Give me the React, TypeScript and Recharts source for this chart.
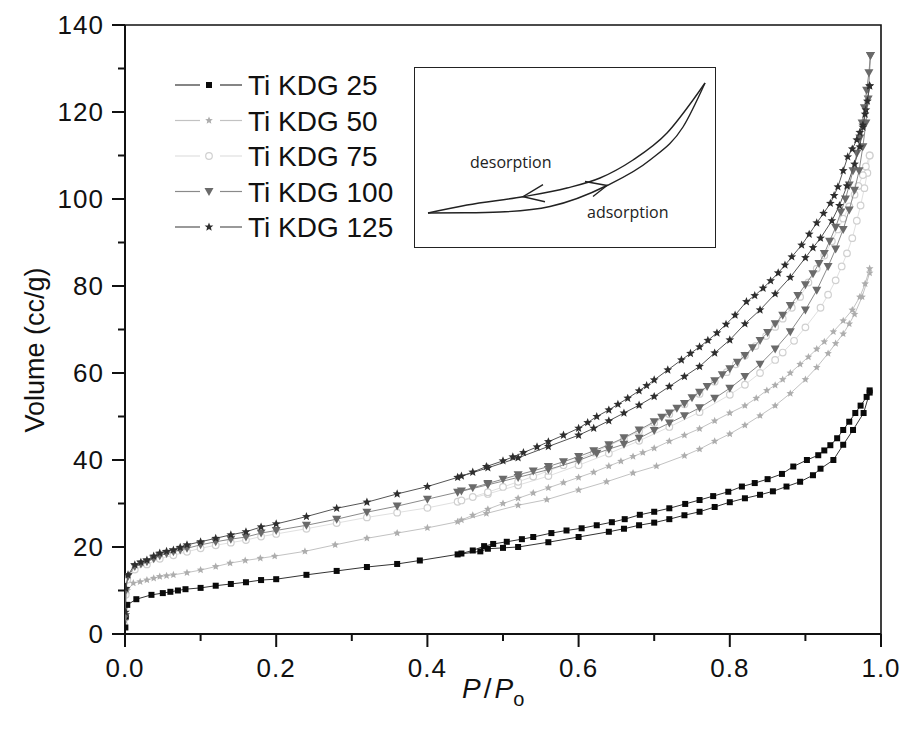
import React from "react";
import {
  Line,
  LineChart,
  ReferenceArea,
  Scatter,
  ScatterChart,
  XAxis,
  YAxis,
} from "recharts";

// P/Po, volume (cc/g) pairs
const kdg25Ads: [number, number][] = [
  [0.0005, 1.5], [0.001, 4.0], [0.003, 6.7], [0.015, 8.0], [0.035, 9.0], [0.05, 9.4],
  [0.06, 9.7], [0.07, 10.0], [0.08, 10.3], [0.1, 10.6], [0.12, 11.1], [0.14, 11.5],
  [0.16, 11.9], [0.18, 12.4], [0.2, 12.6], [0.24, 13.6], [0.28, 14.5], [0.32, 15.4],
  [0.36, 16.1], [0.39, 16.9], [0.44, 18.3], [0.47, 19.0], [0.48, 19.6], [0.5, 19.8],
  [0.52, 20.0], [0.56, 21.1], [0.6, 22.3], [0.64, 23.5], [0.66, 24.2], [0.68, 25.0],
  [0.7, 25.6], [0.72, 26.4], [0.74, 27.3], [0.76, 28.1], [0.78, 29.2], [0.8, 30.3],
  [0.82, 31.2], [0.84, 32.0], [0.857, 32.8], [0.875, 33.9], [0.893, 35.0], [0.91, 36.5],
  [0.92, 38.0], [0.937, 40.0], [0.95, 43.5], [0.963, 46.9], [0.977, 50.8], [0.985, 55.5],
];
const kdg25Des: [number, number][] = [
  [0.985, 56.0], [0.981, 54.5], [0.973, 52.5], [0.966, 50.8], [0.958, 48.8], [0.95, 46.9],
  [0.942, 45.0], [0.933, 43.4], [0.925, 42.2], [0.917, 41.1], [0.902, 40.0], [0.884, 38.5],
  [0.869, 36.8], [0.85, 35.6], [0.833, 34.7], [0.816, 33.9], [0.798, 32.7], [0.778, 31.7],
  [0.76, 30.8], [0.741, 29.9], [0.72, 28.9], [0.7, 28.1], [0.681, 27.4], [0.661, 26.4],
  [0.644, 25.7], [0.624, 25.0], [0.604, 24.3], [0.584, 23.8], [0.564, 23.2], [0.54, 22.3],
  [0.525, 21.8], [0.505, 21.2], [0.487, 20.7], [0.475, 20.2], [0.46, 19.2], [0.445, 18.5],
];

const kdg50Ads: [number, number][] = [
  [0.0005, 3.0], [0.001, 7.0], [0.003, 10.0], [0.011, 11.7], [0.02, 12.0], [0.029, 12.4],
  [0.038, 12.8], [0.046, 13.2], [0.055, 13.4], [0.064, 13.6], [0.082, 14.1], [0.1, 14.7],
  [0.12, 15.5], [0.139, 16.3], [0.159, 16.9], [0.179, 17.4], [0.198, 17.9], [0.238, 19.0],
  [0.278, 20.5], [0.32, 22.0], [0.36, 23.2], [0.4, 24.4], [0.44, 25.8], [0.478, 27.7],
  [0.52, 29.6], [0.558, 30.9], [0.6, 33.1], [0.637, 35.0], [0.672, 37.0], [0.703, 38.6],
  [0.74, 41.0], [0.76, 42.5], [0.78, 44.3], [0.8, 46.0], [0.82, 48.0], [0.84, 50.2],
  [0.86, 52.5], [0.88, 55.3], [0.9, 58.5], [0.915, 61.3], [0.93, 64.5], [0.94, 66.8],
  [0.95, 69.0], [0.958, 71.3], [0.965, 73.5], [0.975, 77.5], [0.985, 83.0],
];
const kdg50Des: [number, number][] = [
  [0.985, 84.0], [0.979, 80.5], [0.972, 77.5], [0.962, 74.5], [0.95, 72.0], [0.937, 69.5],
  [0.925, 67.2], [0.915, 65.5], [0.904, 63.7], [0.893, 62.0], [0.88, 60.0], [0.87, 58.5],
  [0.86, 57.2], [0.849, 56.0], [0.835, 54.2], [0.82, 52.5], [0.8, 50.8], [0.78, 49.0],
  [0.76, 47.2], [0.74, 45.7], [0.72, 44.3], [0.7, 42.7], [0.685, 41.7], [0.672, 40.8],
  [0.656, 39.7], [0.64, 38.6], [0.62, 37.2], [0.6, 36.0], [0.58, 34.8], [0.56, 33.6],
  [0.54, 32.4], [0.52, 31.2], [0.5, 30.0], [0.48, 28.7], [0.46, 27.3], [0.445, 26.2],
];

const kdg75Ads: [number, number][] = [
  [0.0005, 4.0], [0.001, 9.0], [0.003, 12.5], [0.013, 14.8], [0.029, 16.0], [0.046, 17.3],
  [0.064, 18.1], [0.082, 18.9], [0.1, 19.7], [0.12, 20.4], [0.14, 21.0], [0.16, 21.6],
  [0.18, 22.4], [0.2, 23.0], [0.24, 24.2], [0.28, 25.5], [0.32, 26.8], [0.36, 27.9],
  [0.4, 29.0], [0.44, 30.4], [0.48, 32.2], [0.52, 34.2], [0.56, 36.3], [0.6, 38.8],
  [0.64, 41.5], [0.68, 44.4], [0.72, 47.6], [0.76, 51.0], [0.8, 55.0], [0.82, 57.3],
  [0.84, 60.0], [0.86, 63.0], [0.87, 64.7], [0.885, 67.4], [0.9, 70.5], [0.92, 75.0],
  [0.93, 78.0], [0.94, 81.3], [0.948, 84.5], [0.955, 87.5], [0.962, 91.0], [0.968, 95.0],
  [0.973, 98.5], [0.978, 102.5], [0.982, 106.0], [0.985, 110.0],
];
const kdg75Des: [number, number][] = [
  [0.985, 110.0], [0.98, 107.5], [0.976, 105.5], [0.97, 103.0], [0.965, 101.0], [0.958, 98.3],
  [0.95, 95.5], [0.943, 93.0], [0.935, 90.3], [0.925, 87.0], [0.915, 84.0], [0.904, 80.8],
  [0.893, 77.5], [0.882, 75.0], [0.87, 72.5], [0.86, 70.6], [0.848, 68.5], [0.834, 66.2],
  [0.82, 64.0], [0.808, 62.0], [0.796, 60.2], [0.78, 58.0], [0.76, 55.2], [0.74, 52.8],
  [0.72, 50.5], [0.7, 48.5], [0.68, 46.6], [0.66, 44.9], [0.64, 43.3], [0.62, 41.7],
  [0.6, 40.2], [0.58, 38.8], [0.56, 37.5], [0.54, 36.2], [0.52, 35.0], [0.5, 33.8],
  [0.48, 32.6], [0.46, 31.5], [0.445, 30.7],
];

const kdg100Ads: [number, number][] = [
  [0.0005, 4.0], [0.001, 10.0], [0.004, 13.2], [0.013, 15.5], [0.021, 16.1], [0.029, 16.6],
  [0.038, 17.3], [0.046, 18.0], [0.055, 18.5], [0.064, 18.9], [0.073, 19.3], [0.082, 19.7],
  [0.1, 20.5], [0.12, 21.2], [0.14, 21.8], [0.16, 22.3], [0.18, 23.2], [0.2, 23.8],
  [0.24, 25.0], [0.28, 26.4], [0.32, 28.0], [0.36, 29.4], [0.4, 31.0], [0.44, 32.6],
  [0.48, 34.3], [0.52, 36.0], [0.56, 37.8], [0.6, 39.9], [0.624, 41.5], [0.64, 42.5],
  [0.66, 43.6], [0.68, 45.0], [0.7, 46.8], [0.72, 48.5], [0.74, 50.2], [0.76, 52.0],
  [0.78, 54.2], [0.8, 56.5], [0.82, 59.2], [0.84, 62.0], [0.86, 65.5], [0.88, 69.5],
  [0.9, 74.5], [0.915, 79.0], [0.93, 84.5], [0.94, 88.5], [0.95, 93.0], [0.958, 97.5],
  [0.965, 102.0], [0.971, 106.5], [0.976, 112.0], [0.98, 117.5], [0.983, 123.0], [0.986, 133.0],
];
const kdg100Des: [number, number][] = [
  [0.986, 133.0], [0.984, 129.0], [0.981, 125.0], [0.978, 121.0], [0.975, 117.5], [0.972, 114.0],
  [0.968, 110.5], [0.963, 106.5], [0.958, 103.2], [0.953, 100.0], [0.947, 97.0], [0.94, 93.5],
  [0.932, 90.3], [0.925, 87.5], [0.918, 85.2], [0.91, 82.8], [0.9, 80.3], [0.89, 77.8],
  [0.88, 75.5], [0.87, 73.3], [0.86, 71.3], [0.85, 69.3], [0.84, 67.5], [0.83, 65.8],
  [0.82, 64.0], [0.81, 62.5], [0.8, 61.0], [0.79, 59.6], [0.78, 58.2], [0.77, 56.9],
  [0.76, 55.6], [0.75, 54.3], [0.74, 53.0], [0.73, 51.9], [0.72, 50.8], [0.71, 49.8],
  [0.7, 48.8], [0.68, 46.9], [0.66, 45.1], [0.64, 43.5], [0.62, 42.1], [0.6, 40.8],
  [0.58, 39.6], [0.56, 38.5], [0.54, 37.5], [0.52, 36.6], [0.5, 35.6], [0.48, 34.6],
  [0.46, 33.6], [0.445, 32.9],
];

const kdg125Ads: [number, number][] = [
  [0.0005, 5.0], [0.001, 10.5], [0.004, 13.6], [0.013, 15.9], [0.021, 16.5], [0.029, 17.0],
  [0.038, 17.9], [0.046, 18.6], [0.055, 19.0], [0.064, 19.3], [0.073, 19.9], [0.082, 20.5],
  [0.1, 21.2], [0.12, 22.0], [0.14, 22.8], [0.16, 23.5], [0.18, 24.6], [0.2, 25.3],
  [0.24, 27.0], [0.28, 28.9], [0.32, 30.3], [0.36, 32.2], [0.4, 33.9], [0.44, 36.0],
  [0.48, 38.2], [0.52, 40.5], [0.56, 43.1], [0.6, 45.7], [0.62, 47.3], [0.64, 49.0],
  [0.66, 50.8], [0.68, 52.6], [0.7, 54.6], [0.72, 56.9], [0.74, 59.2], [0.76, 61.5],
  [0.78, 64.6], [0.8, 67.6], [0.82, 71.3], [0.84, 74.5], [0.86, 78.2], [0.88, 82.0],
  [0.9, 86.5], [0.91, 88.8], [0.92, 91.0], [0.935, 95.0], [0.945, 98.5], [0.955, 103.0],
  [0.965, 108.0], [0.972, 112.0], [0.976, 116.5], [0.98, 120.5], [0.985, 126.0],
];
const kdg125Des: [number, number][] = [
  [0.985, 126.0], [0.982, 122.5], [0.979, 119.5], [0.976, 117.0], [0.972, 115.3], [0.968, 113.6],
  [0.962, 111.5], [0.956, 109.7], [0.95, 106.5], [0.943, 102.8], [0.938, 100.8], [0.933, 99.0],
  [0.924, 96.7], [0.915, 94.5], [0.905, 91.9], [0.895, 89.4], [0.882, 86.7], [0.873, 84.8],
  [0.864, 83.0], [0.854, 81.2], [0.844, 79.5], [0.833, 77.8], [0.822, 76.4], [0.807, 73.3],
  [0.795, 71.2], [0.783, 69.2], [0.771, 67.5], [0.76, 66.0], [0.748, 64.5], [0.736, 63.0],
  [0.718, 60.7], [0.7, 58.4], [0.69, 57.1], [0.68, 55.9], [0.665, 54.2], [0.652, 52.8],
  [0.64, 51.5], [0.624, 50.0], [0.612, 48.6], [0.6, 47.3], [0.58, 45.7], [0.56, 44.2],
  [0.545, 43.0], [0.527, 41.7], [0.513, 40.7], [0.5, 39.8], [0.478, 38.5], [0.46, 37.2],
  [0.445, 36.3],
];

const seriesNames = ["Ti KDG 25", "Ti KDG 50", "Ti KDG 75", "Ti KDG 100", "Ti KDG 125"];
const xTicks = [0, 0.1, 0.2, 0.3, 0.4, 0.5, 0.6, 0.7, 0.8, 0.9, 1.0];
const yTicks = [0, 10, 20, 30, 40, 50, 60, 70, 80, 90, 100, 110, 120, 130, 140];

// inset sketch of a hysteresis loop, in its own box units (x right, y up)
const sketchAdsorption: [number, number][] = [
  [13, 34], [50, 34.2], [85, 35], [135, 40.5], [192, 61.5], [235, 87], [268, 120], [290, 164],
];
const sketchDesorption: [number, number][] = [
  [13, 34], [52, 42], [108, 50.3], [152, 59], [185, 69], [218, 87], [252, 114], [278, 147], [290, 164],
];

type Kind = "square" | "star" | "circle" | "down" | "smallstar";

const styles: { kind: Kind; color: string; line: string }[] = [
  { kind: "square", color: "#0a0a0a", line: "#333" },
  { kind: "smallstar", color: "#adadad", line: "#c2c2c2" },
  { kind: "circle", color: "#d0d0d0", line: "#e0e0e0" },
  { kind: "down", color: "#6a6a6a", line: "#8a8a8a" },
  { kind: "star", color: "#2e2e2e", line: "#555" },
];

const branches = [
  [kdg25Ads, kdg25Des],
  [kdg50Ads, kdg50Des],
  [kdg75Ads, kdg75Des],
  [kdg100Ads, kdg100Des],
  [kdg125Ads, kdg125Des],
];

const drawOrder = [2, 1, 0, 3, 4];
const font = "'Liberation Sans', Arial, sans-serif";

function starPath(cx: number, cy: number, ro: number, ri: number) {
  let d = "";
  for (let i = 0; i < 10; i++) {
    const r = i % 2 === 0 ? ro : ri;
    const a = -Math.PI / 2 + (i * Math.PI) / 5;
    d += `${i === 0 ? "M" : "L"}${cx + r * Math.cos(a)},${cy + r * Math.sin(a)}`;
  }
  return d + "Z";
}

function Marker({ kind, cx, cy, color }: { kind: Kind; cx?: number; cy?: number; color: string }) {
  if (cx == null || cy == null) return <g />;
  if (kind === "square") return <rect x={cx - 3} y={cy - 3} width={6} height={6} fill={color} />;
  if (kind === "circle")
    return <circle cx={cx} cy={cy} r={3.3} fill="#fff" stroke={color} strokeWidth={1.2} />;
  if (kind === "down")
    return (
      <polygon
        points={`${cx - 4.5},${cy - 3.5} ${cx + 4.5},${cy - 3.5} ${cx},${cy + 4.5}`}
        fill={color}
      />
    );
  if (kind === "smallstar") return <path d={starPath(cx, cy, 4, 1.8)} fill={color} />;
  return <path d={starPath(cx, cy, 4.6, 2)} fill={color} />;
}

function XTick(props: any) {
  const { x, y, payload } = props;
  const v = payload.value as number;
  const major = Math.round(v * 10) % 2 === 0;
  return (
    <g>
      <line x1={x} x2={x} y1={y} y2={y + (major ? 13 : 7)} stroke="#111" strokeWidth={2} />
      {major && (
        <text x={x} y={y + 43} textAnchor="middle" fontSize={26} fontFamily={font} fill="#111" letterSpacing={1}>
          {v.toFixed(1)}
        </text>
      )}
    </g>
  );
}

function YTick(props: any) {
  const { x, y, payload } = props;
  const v = payload.value as number;
  const major = v % 20 === 0;
  return (
    <g>
      <line x1={x} x2={x - (major ? 13 : 7)} y1={y} y2={y} stroke="#111" strokeWidth={2} />
      {major && (
        <text x={x - 21} y={y + 9} textAnchor="end" fontSize={26} fontFamily={font} fill="#111" letterSpacing={1}>
          {v}
        </text>
      )}
    </g>
  );
}

function Arrow(dir: "left" | "right", at: number) {
  return (p: any) => {
    if (p.index !== at) return <g key={p.index} />;
    const { cx, cy } = p;
    const d =
      dir === "left"
        ? `M${cx + 20},${cy - 12} L${cx},${cy} L${cx + 22},${cy + 5}`
        : `M${cx - 22},${cy - 4} L${cx},${cy} L${cx - 14},${cy + 11}`;
    return <path key={p.index} d={d} fill="none" stroke="#222" strokeWidth={1.4} />;
  };
}

const toPts = (arr: [number, number][]) => arr.map(([x, y]) => ({ x, y }));

export default function App() {
  return (
    <div style={{ position: "absolute", left: 0, top: 0, width: 902, height: 734, background: "#fff" }}>
      <ScatterChart width={902} height={734} margin={{ top: 25, right: 21, bottom: 40, left: 25 }}>
        <XAxis
          type="number"
          dataKey="x"
          domain={[0, 1]}
          ticks={xTicks}
          interval={0}
          height={60}
          tickSize={0}
          tickMargin={0}
          tickLine={false}
          tick={<XTick />}
          axisLine={{ stroke: "#111", strokeWidth: 2 }}
          allowDataOverflow
        />
        <YAxis
          type="number"
          dataKey="y"
          domain={[0, 140]}
          ticks={yTicks}
          interval={0}
          width={100}
          tickSize={0}
          tickMargin={0}
          tickLine={false}
          tick={<YTick />}
          axisLine={{ stroke: "#111", strokeWidth: 2 }}
          allowDataOverflow
        />
        <ReferenceArea x1={0} x2={1} y1={0} y2={140} fill="none" stroke="#111" strokeWidth={1.6} />
        {drawOrder.flatMap((i) =>
          branches[i].map((branch, j) => (
            <Scatter
              key={`${i}-${j}`}
              name={seriesNames[i]}
              data={toPts(branch)}
              line={{ stroke: styles[i].line, strokeWidth: 1 }}
              lineType="joint"
              isAnimationActive={false}
              shape={(p: any) => <Marker kind={styles[i].kind} cx={p.cx} cy={p.cy} color={styles[i].color} />}
            />
          ))
        )}
      </ScatterChart>

      <div
        style={{
          position: "absolute",
          left: 414,
          top: 67,
          width: 300,
          height: 179,
          border: "1.5px solid #222",
          background: "#fff",
        }}
      >
        <LineChart width={300} height={179} margin={{ top: 0, right: 0, bottom: 0, left: 0 }}>
          <XAxis type="number" dataKey="x" domain={[0, 300]} hide />
          <YAxis type="number" dataKey="y" domain={[0, 179]} hide width={0} />
          <Line
            data={toPts(sketchDesorption)}
            dataKey="y"
            type="monotone"
            stroke="#222"
            strokeWidth={1.4}
            dot={Arrow("left", 2)}
            activeDot={false}
            isAnimationActive={false}
          />
          <Line
            data={toPts(sketchAdsorption)}
            dataKey="y"
            type="monotone"
            stroke="#222"
            strokeWidth={1.4}
            dot={Arrow("right", 4)}
            activeDot={false}
            isAnimationActive={false}
          />
        </LineChart>
      </div>

      <svg
        width={902}
        height={734}
        style={{ position: "absolute", left: 0, top: 0, pointerEvents: "none" }}
      >
        <text x={470} y={168} fontSize={16} fontFamily="'Open Sans', sans-serif" fill="#222">
          desorption
        </text>
        <text x={587} y={218} fontSize={16} fontFamily="'Open Sans', sans-serif" fill="#222">
          adsorption
        </text>

        <text
          x={35}
          y={350}
          transform="rotate(-90, 35, 350)"
          textAnchor="middle"
          dominantBaseline="central"
          fontSize={27}
          fontFamily={font}
          fill="#111"
        >
          Volume (cc/g)
        </text>
        <text x={462} y={698} fontSize={28} fontFamily={font} fill="#111">
          <tspan fontStyle="italic">P</tspan>
          <tspan dx={3}>/</tspan>
          <tspan dx={3} fontStyle="italic">P</tspan>
          <tspan fontSize={20} dy={8}>o</tspan>
        </text>

        {seriesNames.map((name, i) => {
          const y = 85 + i * 35.5;
          return (
            <g key={name}>
              <line x1={175} x2={200} y1={y} y2={y} stroke={styles[i].line} strokeWidth={1.2} />
              <line x1={220} x2={242} y1={y} y2={y} stroke={styles[i].line} strokeWidth={1.2} />
              <Marker kind={styles[i].kind} cx={209} cy={y} color={styles[i].color} />
              <text x={248} y={y + 10} fontSize={28} fontFamily={font} fill="#111">
                {name}
              </text>
            </g>
          );
        })}
      </svg>
    </div>
  );
}
